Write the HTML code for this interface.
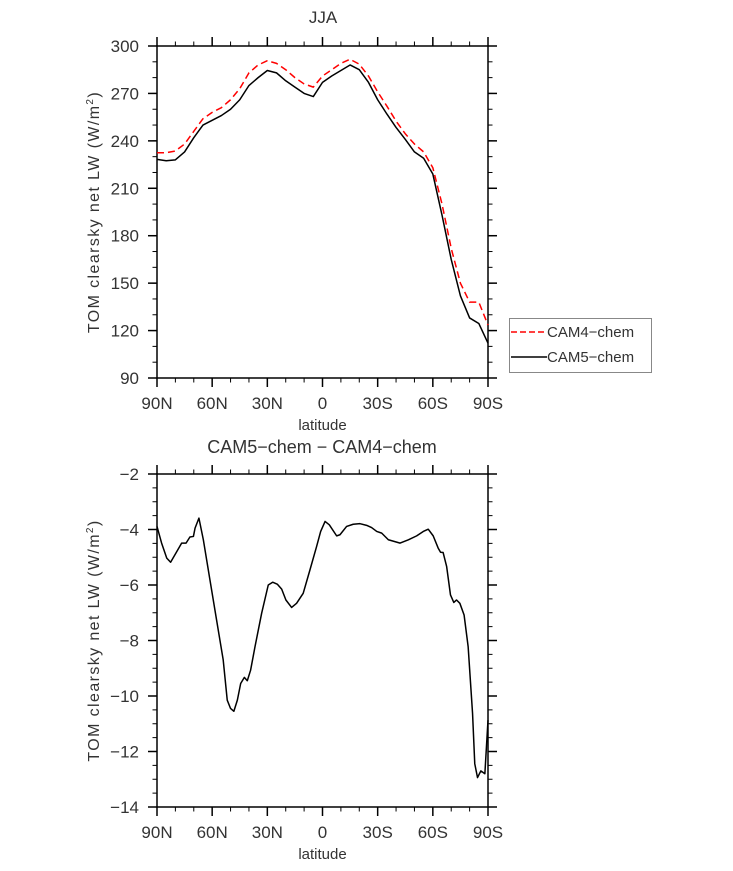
<!DOCTYPE html>
<html><head><meta charset="utf-8"><style>
html,body{margin:0;padding:0;background:#fff;}
svg text{font-family:"Liberation Sans",sans-serif;fill:#333;}
</style></head><body>
<svg id="chart" width="733" height="866" viewBox="0 0 733 866" xmlns="http://www.w3.org/2000/svg">
<text x="323" y="23" font-size="17" text-anchor="middle">JJA</text>
<text x="322" y="453" font-size="18" text-anchor="middle">CAM5−chem − CAM4−chem</text>
<g id="topPanel"></g>
<g id="botPanel"></g>
<g>
<rect x="509.5" y="318.5" width="142" height="54" fill="#fff" stroke="#888" stroke-width="1"/>
<line x1="511" y1="332" x2="547" y2="332" stroke="#f00" stroke-width="1.5" stroke-dasharray="6,3"/>
<text x="547" y="337" font-size="15">CAM4−chem</text>
<line x1="511" y1="357" x2="547" y2="357" stroke="#000" stroke-width="1.5"/>
<text x="547" y="362" font-size="15">CAM5−chem</text>
</g>
</svg>
<script>
const lats = [90,85,80,75,70,65,60,55,50,45,40,35,30,25,20,15,10,5,0,-5,-10,-15,-20,-25,-30,-35,-40,-45,-50,-55,-60,-65,-70,-75,-80,-85,-90];
const cam5 = [228.3,227.4,228,233,242,250,253,256,260,266,275,280,284.5,283,278,274,270,268,277,281,284.5,288,285,277,266,257,248.5,241,233,229,219,193,165,142,128,124.5,112];
const cam4 = [232.5,232.5,233.6,238,246,254,258,261,266,273,283,288,290.7,289,285,280,276,274,281,285,289,291.6,288.5,281,271,262,252.5,244.5,238,233,223,200,172,150,138,138,123.5];
const diffLats = [90,87.5,84.7,82.6,79.3,76.6,74.2,72.1,70.2,69.3,67.2,64.8,61.2,57.6,54,51.8,50,48.2,46.3,44.5,42.5,40.9,39.1,36.7,33.1,29.5,27.1,24.6,22.2,19.9,16.8,14.1,10.5,6.8,3.2,1,-1.4,-3.7,-7.7,-9.5,-13.1,-16.7,-20.4,-24,-26.7,-29.5,-32.2,-35.8,-42.2,-46.7,-51.2,-54.8,-57.5,-60.2,-62.9,-64.2,-65.6,-67.5,-69.6,-71.4,-72.9,-74.7,-77,-79.2,-81.6,-82.8,-84.3,-86.1,-88.3,-90];
const diffVals = [-3.89,-4.49,-5.03,-5.18,-4.8,-4.49,-4.49,-4.27,-4.25,-3.95,-3.59,-4.37,-5.82,-7.26,-8.7,-10.15,-10.45,-10.55,-10.15,-9.55,-9.33,-9.45,-9.07,-8.22,-7.02,-6,-5.9,-5.97,-6.15,-6.54,-6.81,-6.66,-6.3,-5.45,-4.61,-4.07,-3.71,-3.83,-4.23,-4.19,-3.89,-3.81,-3.79,-3.85,-3.93,-4.07,-4.13,-4.37,-4.49,-4.37,-4.23,-4.07,-3.99,-4.23,-4.67,-4.82,-4.83,-5.33,-6.36,-6.63,-6.54,-6.66,-7.08,-8.22,-10.63,-12.44,-12.94,-12.7,-12.8,-10.87];
const xTickVals = [90,60,30,0,-30,-60,-90];
const xTickLabels = ["90N","60N","30N","0","30S","60S","90S"];
const topYTicks = [90,120,150,180,210,240,270,300];
const botYTicks = [-14,-12,-10,-8,-6,-4,-2];

{
const NS="http://www.w3.org/2000/svg";
function mk(parent,tag,attrs){const e=document.createElementNS(NS,tag);for(const k in attrs)e.setAttribute(k,attrs[k]);parent.appendChild(e);return e;}

function panel(g,y0,y1,vmin,vmax,yTicks,minorStep){
  const L=157,R=488;
  const sx=lat=>L+(90-lat)*(R-L)/180;
  const sy=v=>y1-(v-vmin)*(y1-y0)/(vmax-vmin);
  for(let lat=90;lat>=-90;lat-=10){
    if(lat%30===0)continue;
    const x=sx(lat);
    const t1=mk(g,'line',{x1:x,y1:y1,x2:x,y2:y1+4.5,stroke:'#000','stroke-width':1});
    
    
    const t2=mk(g,'line',{x1:x,y1:y0,x2:x,y2:y0-4.5,stroke:'#000','stroke-width':1});
    
    
  }
  const nMinor=Math.round((vmax-vmin)/minorStep);
  for(let i=0;i<=nMinor;i++){
    const v=vmin+i*minorStep;const y=sy(v);
    const t1=mk(g,'line',{x1:L,y1:y,x2:L-4.5,y2:y,stroke:'#000','stroke-width':1});
    
    
    const t2=mk(g,'line',{x1:R,y1:y,x2:R+4.5,y2:y,stroke:'#000','stroke-width':1});
    
    
  }
  xTickVals.forEach((lat,i)=>{
    const x=sx(lat);
    const t1=mk(g,'line',{x1:x,y1:y1,x2:x,y2:y1+9,stroke:'#000','stroke-width':1.5});
    
    
    const t2=mk(g,'line',{x1:x,y1:y0,x2:x,y2:y0-9,stroke:'#000','stroke-width':1.5});
    
    
    const tx=mk(g,'text',{x:x,y:y1+31,'font-size':17,'text-anchor':'middle'});tx.textContent=xTickLabels[i];
    
    
  });
  yTicks.forEach(v=>{
    const y=sy(v);
    const t1=mk(g,'line',{x1:L,y1:y,x2:L-9,y2:y,stroke:'#000','stroke-width':1.5});
    
    
    const t2=mk(g,'line',{x1:R,y1:y,x2:R+9,y2:y,stroke:'#000','stroke-width':1.5});
    
    
    const tx=mk(g,'text',{x:139,y:y+6,'font-size':17,'text-anchor':'end'});tx.textContent=(v<0?'−'+(-v):String(v));
    
    
  });
  const fr=mk(g,'rect',{x:L,y:y0,width:R-L,height:y1-y0,fill:'none',stroke:'#000','stroke-width':1.5});
  
  
  const xt=mk(g,'text',{x:(L+R)/2,y:y1+52,'font-size':15,'text-anchor':'middle'});xt.textContent='latitude';
  
  
  const cy=(y0+y1)/2;
  const yt=mk(g,'text',{x:0,y:0,'font-size':16,'letter-spacing':1.4,'text-anchor':'middle',transform:'translate(99,'+cy+') rotate(-90)'});
  yt.appendChild(document.createTextNode('TOM clearsky net LW (W/m'));
  const s1=mk(yt,'tspan',{'font-size':10,dy:-6});s1.textContent='2';
  const s2=mk(yt,'tspan',{dy:6});s2.textContent=')';
  
  
  return {sx,sy};
}

const topG=document.getElementById('topPanel');
const A=panel(topG,46,378,90,300,topYTicks,10);
const p4=mk(topG,'polyline',{points:lats.map((l,i)=>A.sx(l)+','+A.sy(cam4[i])).join(' '),fill:'none',stroke:'#f00','stroke-width':1.5,'stroke-dasharray':'7,4','stroke-linejoin':'round'});


const p5=mk(topG,'polyline',{points:lats.map((l,i)=>A.sx(l)+','+A.sy(cam5[i])).join(' '),fill:'none',stroke:'#000','stroke-width':1.5,'stroke-linejoin':'round'});



const botG=document.getElementById('botPanel');
const B=panel(botG,474,807,-14,-2,botYTicks,0.5);
const pd=mk(botG,'polyline',{points:diffLats.map((l,i)=>B.sx(l)+','+B.sy(diffVals[i])).join(' '),fill:'none',stroke:'#000','stroke-width':1.5,'stroke-linejoin':'round'});


}
</script>
</body></html>
